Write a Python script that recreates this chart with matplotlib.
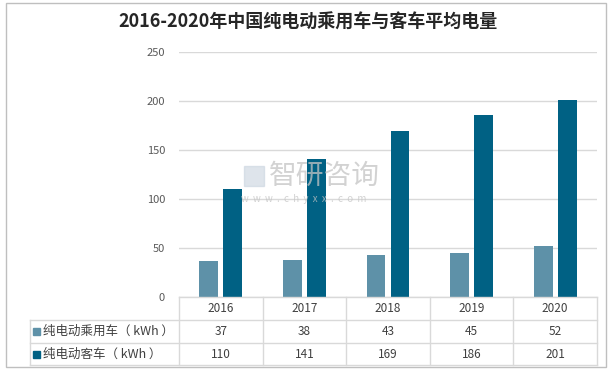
import matplotlib.pyplot as plt
import numpy as np
from matplotlib.lines import Line2D
from matplotlib.patches import Rectangle

plt.rcParams['font.family'] = ['Noto Sans CJK SC', 'DejaVu Sans']

years = ['2016', '2017', '2018', '2019', '2020']
car = [37, 38, 43, 45, 52]
bus = [110, 141, 169, 186, 201]
names = ['纯电动乘用车（ kWh ）', '纯电动客车（ kWh ）']
colors = ['#5e91a8', '#006184']
yticks = [0, 50, 100, 150, 200, 250]

W, H = 616, 370
fig = plt.figure(figsize=(W / 100, H / 100), dpi=100)

def fx(px):
    return px / W

def fy(py):
    return 1 - py / H

# outer frame
fig.add_artist(Rectangle((fx(6), fy(367)), fx(600), 364 / H, fill=False,
                         edgecolor='#bfbfbf', lw=1, transform=fig.transFigure))

fig.text(0.5, fy(22), '2016-2020年中国纯电动乘用车与客车平均电量', ha='center', va='center',
         fontsize=13, fontweight='bold', color='#262626')

left, right, top, bottom = 179, 597, 52, 297
ax = fig.add_axes([fx(left), fy(bottom), (right - left) / W, (bottom - top) / H])
x = np.arange(len(years))
bw = 0.227
gap = 0.06
ax.bar(x - (bw + gap) / 2, car, bw, color=colors[0], zorder=3)
ax.bar(x + (bw + gap) / 2, bus, bw, color=colors[1], zorder=3)
ax.set_xlim(-0.5, len(years) - 0.5)
ax.set_ylim(0, 250)
ax.set_yticks(yticks)
ax.set_xticks([])
ax.grid(axis='y', color='#d9d9d9', lw=1, zorder=0)
for s in ax.spines.values():
    s.set_visible(False)
ax.tick_params(axis='y', length=0, labelsize=8, labelcolor='#595959', pad=10)

# watermark
fig.add_artist(Rectangle((fx(244), fy(186)), fx(20), 20 / H, color='#c9d3df', alpha=0.6,
                         transform=fig.transFigure))
fig.text(fx(324), fy(176), '智研咨询', ha='center', va='center', fontsize=20,
         color='#c4c4c4', alpha=0.75)
fig.text(fx(304), fy(199), 'w  w  w  .  c  h  y  x  x  .  c  o  m', ha='center', va='center',
         fontsize=7, color='#c4c4c4', alpha=0.75)

# data table
lc = '#d9d9d9'
tl = 30
rows_y = [297, 320, 343, 365]
colw = (right - left) / len(years)
for i, y in enumerate(rows_y):
    x0 = left if i == 0 else tl
    fig.add_artist(Line2D([fx(x0), fx(right)], [fy(y), fy(y)], color=lc, lw=1))
fig.add_artist(Line2D([fx(tl), fx(tl)], [fy(320), fy(365)], color=lc, lw=1))
for j in range(len(years) + 1):
    xx = left + j * colw
    fig.add_artist(Line2D([fx(xx), fx(xx)], [fy(297), fy(365)], color=lc, lw=1))

for j, yr in enumerate(years):
    cx = left + (j + 0.5) * colw
    fig.text(fx(cx), fy(308.5), yr, ha='center', va='center', fontsize=8.5, color='#404040')
    fig.text(fx(cx), fy(331.5), str(car[j]), ha='center', va='center', fontsize=8.5, color='#404040')
    fig.text(fx(cx), fy(354), str(bus[j]), ha='center', va='center', fontsize=8.5, color='#404040')

for i, (nm, c) in enumerate(zip(names, colors)):
    cy = 331.5 + i * 22.5
    fig.add_artist(Rectangle((fx(33), fy(cy + 3.5)), fx(7), 7 / H, color=c,
                             transform=fig.transFigure))
    fig.text(fx(43), fy(cy), nm, ha='left', va='center', fontsize=9, color='#404040')

fig.savefig('out.png', dpi=100)
